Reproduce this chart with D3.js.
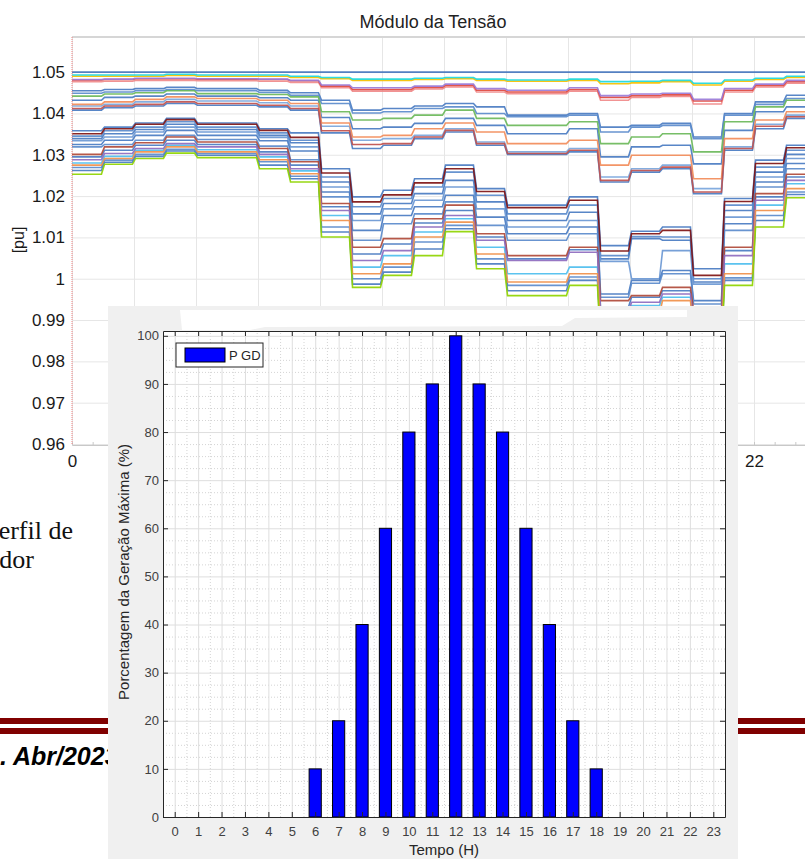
<!DOCTYPE html>
<html>
<head>
<meta charset="utf-8">
<script src="https://cdn.jsdelivr.net/npm/d3@7"></script>
<style>
  body { margin: 0; background: #fff; }
  svg { display: block; }
  text { font-family: "Liberation Sans", Arial, sans-serif; }
</style>
</head>
<body>
<svg id="chart" width="805" height="859"></svg>
<script>
// ---------------- data ----------------
var hours = [0,1,2,3,4,5,6,7,8,9,10,11,12,13,14,15,16,17,18,19,20,21,22,23];

// percentage of maximum DG generation per hour
var genPct = [0,0,0,0,0,0,10,20,40,60,80,90,100,90,80,60,40,20,10,0,0,0,0,0];

// bus voltages [pu] per hour
var vSource = [1.0500,1.0500,1.0500,1.0500,1.0500,1.0500,1.0500,1.0500,1.0500,1.0500,1.0500,1.0500,1.0500,1.0500,1.0500,1.0500,1.0500,1.0500,1.0500,1.0500,1.0500,1.0500,1.0500,1.0500];
var vCyan   = [1.0493,1.0493,1.0493,1.0495,1.0493,1.0493,1.0493,1.0490,1.0487,1.0483,1.0483,1.0485,1.0487,1.0483,1.0481,1.0481,1.0483,1.0477,1.0478,1.0480,1.0473,1.0481,1.0485,1.0490];
var vYellow = [1.0490,1.0490,1.0490,1.0492,1.0490,1.0490,1.0490,1.0487,1.0484,1.0480,1.0480,1.0482,1.0484,1.0480,1.0478,1.0478,1.0480,1.0472,1.0474,1.0477,1.0469,1.0478,1.0482,1.0487];
var vRed1   = [1.0481,1.0482,1.0484,1.0484,1.0483,1.0483,1.0482,1.0479,1.0466,1.0458,1.0458,1.0463,1.0468,1.0456,1.0452,1.0452,1.0458,1.0439,1.0443,1.0445,1.0430,1.0456,1.0468,1.0477];
var vPurple = [1.0482,1.0483,1.0485,1.0485,1.0484,1.0484,1.0483,1.0480,1.0469,1.0462,1.0462,1.0466,1.0471,1.0460,1.0456,1.0456,1.0462,1.0443,1.0447,1.0449,1.0434,1.0460,1.0471,1.0480];
var vPink   = [1.0477,1.0478,1.0480,1.0480,1.0479,1.0479,1.0478,1.0475,1.0462,1.0454,1.0454,1.0459,1.0464,1.0452,1.0448,1.0448,1.0454,1.0432,1.0439,1.0441,1.0423,1.0452,1.0464,1.0473];

var vB1  = [1.0455,1.0458,1.0460,1.0463,1.0460,1.0460,1.0456,1.0450,1.0432,1.0408,1.0412,1.0418,1.0424,1.0416,1.0396,1.0396,1.0400,1.0367,1.0371,1.0376,1.0343,1.0400,1.0428,1.0444];
var vB1b = [1.0449,1.0452,1.0455,1.0457,1.0455,1.0455,1.0451,1.0444,1.0424,1.0401,1.0404,1.0412,1.0416,1.0400,1.0392,1.0392,1.0396,1.0355,1.0367,1.0371,1.0339,1.0396,1.0422,1.0436];
var vG   = [1.0442,1.0447,1.0450,1.0455,1.0448,1.0448,1.0446,1.0440,1.0404,1.0384,1.0388,1.0396,1.0408,1.0388,1.0371,1.0371,1.0380,1.0327,1.0343,1.0351,1.0307,1.0380,1.0416,1.0432];
var vB2  = [1.0432,1.0439,1.0442,1.0447,1.0442,1.0442,1.0438,1.0432,1.0390,1.0363,1.0367,1.0376,1.0388,1.0371,1.0351,1.0351,1.0363,1.0295,1.0319,1.0323,1.0278,1.0359,1.0404,1.0416];
var vO   = [1.0422,1.0428,1.0434,1.0440,1.0436,1.0436,1.0432,1.0424,1.0377,1.0343,1.0347,1.0363,1.0377,1.0355,1.0327,1.0327,1.0335,1.0275,1.0299,1.0299,1.0242,1.0339,1.0384,1.0404];
var vB3  = [1.0418,1.0422,1.0428,1.0434,1.0430,1.0430,1.0426,1.0418,1.0369,1.0335,1.0339,1.0347,1.0363,1.0331,1.0307,1.0307,1.0315,1.0246,1.0266,1.0275,1.0218,1.0319,1.0374,1.0396];
var vR   = [1.0412,1.0418,1.0422,1.0428,1.0424,1.0424,1.0420,1.0412,1.0358,1.0325,1.0327,1.0343,1.0359,1.0327,1.0303,1.0303,1.0311,1.0238,1.0262,1.0270,1.0210,1.0315,1.0369,1.0392];
var vB4  = [1.0408,1.0414,1.0418,1.0424,1.0420,1.0420,1.0416,1.0408,1.0353,1.0315,1.0323,1.0339,1.0355,1.0323,1.0301,1.0301,1.0307,1.0234,1.0258,1.0266,1.0206,1.0311,1.0363,1.0388];

var vL0  = [1.0358,1.0367,1.0377,1.0388,1.0377,1.0377,1.0363,1.0353,1.0266,1.0198,1.0214,1.0242,1.0275,1.0218,1.0178,1.0178,1.0198,1.0080,1.0115,1.0125,1.0024,1.0194,1.0287,1.0323];
var vL1  = [1.0351,1.0363,1.0374,1.0385,1.0374,1.0374,1.0359,1.0342,1.0256,1.0186,1.0203,1.0232,1.0266,1.0211,1.0172,1.0172,1.0190,1.0067,1.0109,1.0117,1.0008,1.0187,1.0279,1.0317];
var vL2  = [1.0345,1.0358,1.0367,1.0380,1.0367,1.0367,1.0353,1.0335,1.0246,1.0174,1.0194,1.0222,1.0258,1.0202,1.0157,1.0157,1.0178,1.0056,1.0102,1.0101,1.0000,1.0178,1.0270,1.0311];
var vL3  = [1.0339,1.0351,1.0361,1.0374,1.0361,1.0361,1.0347,1.0329,1.0234,1.0157,1.0182,1.0206,1.0238,1.0186,1.0141,1.0141,1.0161,1.0048,1.0097,1.0093,0.9992,1.0165,1.0258,1.0301];
var vL4  = [1.0334,1.0343,1.0355,1.0367,1.0355,1.0355,1.0342,1.0319,1.0222,1.0141,1.0169,1.0190,1.0222,1.0169,1.0125,1.0125,1.0141,1.0042,1.0000,1.0068,0.9987,1.0149,1.0246,1.0291];
var vL5  = [1.0325,1.0335,1.0347,1.0359,1.0347,1.0347,1.0334,1.0309,1.0210,1.0117,1.0153,1.0174,1.0202,1.0149,1.0109,1.0109,1.0125,0.9963,0.9996,1.0020,0.9947,1.0133,1.0234,1.0279];
var vL6  = [1.0319,1.0325,1.0335,1.0347,1.0337,1.0337,1.0321,1.0288,1.0198,1.0093,1.0133,1.0157,1.0186,1.0129,1.0093,1.0093,1.0109,0.9955,0.9989,1.0012,0.9939,1.0117,1.0222,1.0266];
var vL7  = [1.0301,1.0319,1.0329,1.0343,1.0331,1.0331,1.0315,1.0283,1.0182,1.0076,1.0097,1.0145,1.0178,1.0109,1.0056,1.0056,1.0076,0.9947,0.9959,0.9979,0.9923,1.0076,1.0206,1.0253];
var vL8  = [1.0295,1.0311,1.0323,1.0335,1.0325,1.0325,1.0307,1.0275,1.0174,1.0060,1.0084,1.0135,1.0165,1.0101,1.0048,1.0048,1.0070,0.9931,0.9955,0.9971,0.9907,1.0068,1.0198,1.0246];
var vL9  = [1.0288,1.0303,1.0315,1.0327,1.0319,1.0319,1.0301,1.0266,1.0165,1.0044,1.0068,1.0125,1.0153,1.0093,1.0044,1.0044,1.0064,0.9919,0.9943,0.9963,0.9899,1.0056,1.0190,1.0238];
var vL10 = [1.0280,1.0296,1.0311,1.0323,1.0312,1.0312,1.0295,1.0261,1.0153,1.0028,1.0056,1.0113,1.0145,1.0076,1.0012,1.0012,1.0028,0.9907,0.9935,0.9955,0.9886,1.0036,1.0178,1.0230];
var vL11 = [1.0275,1.0291,1.0307,1.0319,1.0307,1.0307,1.0288,1.0254,1.0141,1.0012,1.0036,1.0101,1.0137,1.0060,0.9992,0.9992,1.0012,0.9890,0.9915,0.9947,0.9874,1.0012,1.0165,1.0218];
var vL12 = [1.0269,1.0287,1.0301,1.0313,1.0303,1.0303,1.0283,1.0248,1.0125,1.0000,1.0028,1.0089,1.0129,1.0048,0.9984,0.9984,1.0004,0.9874,0.9899,0.9931,0.9862,1.0002,1.0153,1.0210];
var vL13 = [1.0262,1.0282,1.0296,1.0309,1.0299,1.0299,1.0275,1.0242,1.0113,0.9987,1.0016,1.0072,1.0121,1.0036,0.9971,0.9971,0.9996,0.9858,0.9882,0.9915,0.9850,0.9996,1.0141,1.0204];
var vL14 = [1.0253,1.0277,1.0291,1.0304,1.0293,1.0293,1.0266,1.0234,1.0101,0.9979,1.0008,1.0056,1.0114,1.0024,0.9959,0.9959,0.9984,0.9842,0.9866,0.9899,0.9834,0.9984,1.0125,1.0196];

// draw order: blues first, coloured ones on top
var busSeries = [vSource, vB1, vB1b, vB2, vB4, vL0, vL2, vL3, vL4, vL5, vL6, vL8, vL12, vL13,
                 vB3, vL10, vG, vO, vR, vL7, vL9, vL11, vL1, vL14, vPink, vRed1, vPurple, vYellow, vCyan];
var busColors = ["#4676bd", "#4a7cc2", "#5b8bcc", "#4a7cc2", "#4a7cc2", "#4a7cc2", "#5b8bcc", "#4a7cc2", "#6b98d4", "#4a7cc2", "#5b8bcc", "#4a7cc2", "#5b8bcc", "#4a7cc2",
                 "#7aa6dc", "#4dbeee", "#6bb85a", "#f28c5a", "#c0504d", "#b04a3a", "#8e6bbf", "#f0904a", "#7f1414", "#8fd400", "#f08a8a", "#e0463e", "#9a7cd8", "#f5c000", "#1ed8dc"];

var vTicks = [0.96, 0.97, 0.98, 0.99, 1, 1.01, 1.02, 1.03, 1.04, 1.05];
var vTickLabels = ["0.96", "0.97", "0.98", "0.99", "1", "1.01", "1.02", "1.03", "1.04", "1.05"];
var tTicks = [0, 2, 4, 6, 8, 10, 12, 14, 16, 18, 20, 22, 24];
var tLabelTicks = [0, 2, 4, 6, 8, 10, 12, 14, 16, 18, 20, 22];

// ---------------- background chart ----------------
var svg = d3.select("#chart");
svg.append("rect").attr("width", 805).attr("height", 859).attr("fill", "#fff");

var vx = d3.scaleLinear().domain([0, 24]).range([72, 816]);
var vy = d3.scaleLinear().domain([0.96, 1.0585]).range([444, 37]);

var bg = svg.append("g");

bg.append("text")
    .attr("x", 433).attr("y", 28)
    .attr("text-anchor", "middle")
    .style("font-size", "18px")
    .attr("fill", "#222")
    .text("Módulo da Tensão");

// grid
bg.append("g")
    .attr("transform", "translate(0,444)")
    .call(d3.axisBottom(vx).tickValues(tTicks).tickSize(-407).tickFormat(""))
    .call(g => g.select(".domain").remove())
    .selectAll("line").attr("stroke", "#e6e6e6");
bg.append("g")
    .attr("transform", "translate(72,0)")
    .call(d3.axisLeft(vy).tickValues(vTicks).tickSize(-744).tickFormat(""))
    .call(g => g.select(".domain").remove())
    .selectAll("line").attr("stroke", "#e6e6e6");

bg.append("line").attr("x1", 72).attr("x2", 805).attr("y1", 37).attr("y2", 37)
    .attr("stroke", "#d6d6d6").attr("stroke-width", 2);

// x axis line + minor ticks
bg.append("g")
    .attr("transform", "translate(0,445)")
    .call(d3.axisBottom(vx).tickValues(d3.range(0, 24.01, 2 / 3)).tickSize(-3).tickFormat(""))
    .call(g => g.select(".domain").attr("stroke", "#c8c8c8"))
    .selectAll("line").attr("stroke", "#c8c8c8");

// tick labels
var vyAxis = bg.append("g")
    .attr("transform", "translate(72,0)")
    .call(d3.axisLeft(vy).tickValues(vTicks).tickSize(0).tickPadding(7).tickFormat((d, i) => vTickLabels[i]));
vyAxis.select(".domain").remove();
vyAxis.selectAll("text").style("font-size", "17px").attr("fill", "#1a1a1a").style("font-family", "Liberation Sans, Arial");

var vxAxis = bg.append("g")
    .attr("transform", "translate(0,444)")
    .call(d3.axisBottom(vx).tickValues(tLabelTicks).tickSize(0).tickPadding(11));
vxAxis.select(".domain").remove();
vxAxis.selectAll("text").style("font-size", "17px").attr("fill", "#1a1a1a").style("font-family", "Liberation Sans, Arial");

bg.append("text")
    .attr("transform", "translate(24,240) rotate(-90)")
    .attr("text-anchor", "middle")
    .style("font-size", "16px")
    .attr("fill", "#1a1a1a")
    .text("[pu]");

// voltage step lines
svg.append("clipPath").attr("id", "vclip")
    .append("rect").attr("x", 72).attr("y", 37).attr("width", 744).attr("height", 407);

var stepLine = d3.line().x(d => vx(d[0])).y(d => vy(d[1]));
function stepPoints(vals) {
  var pts = [];
  vals.forEach((v, i) => {
    pts.push([i === 0 ? 0 : i + 0.05, v]);
    pts.push([i + 0.95, v]);
  });
  return pts;
}

bg.append("g").attr("clip-path", "url(#vclip)")
  .selectAll("path")
  .data(busSeries)
  .join("path")
    .attr("d", d => stepLine(stepPoints(d)))
    .attr("fill", "none")
    .attr("stroke", (d, i) => busColors[i])
    .attr("stroke-width", 1.6)
    .attr("stroke-opacity", 0.92);

// red dotted y axis
bg.append("line").attr("x1", 72).attr("x2", 72).attr("y1", 37).attr("y2", 444)
    .attr("stroke", "#f08080").attr("stroke-dasharray", "1,1");

// ---------------- slide fragments ----------------
svg.append("text").attr("x", 73).attr("y", 539).attr("text-anchor", "end")
    .style("font-family", "Liberation Serif, Times New Roman, serif").style("font-size", "26px")
    .attr("fill", "#111").text("erfil de");
svg.append("text").attr("x", 34).attr("y", 568).attr("text-anchor", "end")
    .style("font-family", "Liberation Serif, Times New Roman, serif").style("font-size", "26px")
    .attr("fill", "#111").text("dor");

svg.append("rect").attr("x", 0).attr("y", 718).attr("width", 805).attr("height", 6).attr("fill", "#800000");
svg.append("rect").attr("x", 0).attr("y", 728).attr("width", 805).attr("height", 6).attr("fill", "#800000");

svg.append("text").attr("x", 0).attr("y", 765)
    .style("font-size", "25px").style("font-weight", "bold").style("font-style", "italic")
    .attr("fill", "#000").text(". Abr/2023");

// ---------------- bar chart panel ----------------
svg.append("rect").attr("x", 108).attr("y", 306).attr("width", 630).attr("height", 553).attr("fill", "#f0f0f0");
svg.append("polygon")
    .attr("points", "180,310 687,310 687,317 575,318 562,326 265,327 250,330 182,330")
    .attr("fill", "#fff");

var bx = d3.scaleLinear().domain([-0.5, 23.5]).range([163, 725]);
var by = d3.scaleLinear().domain([0, 101]).range([817, 331]);

var bc = svg.append("g");
bc.append("rect").attr("x", 163).attr("y", 331).attr("width", 562).attr("height", 486).attr("fill", "#fff");

var minorX = hours.slice(0, 23).map(h => h + 0.5);
var minorY = [];
for (var k = 0; k < 100; k += 2.5) if (k % 10 !== 0) minorY.push(k);

bc.append("g").attr("transform", "translate(0,817)")
    .call(d3.axisBottom(bx).tickValues(minorX).tickSize(-486).tickFormat(""))
    .call(g => g.select(".domain").remove())
    .selectAll("line").attr("stroke", "#d4d4d4").attr("stroke-dasharray", "1,2");
bc.append("g").attr("transform", "translate(163,0)")
    .call(d3.axisLeft(by).tickValues(minorY).tickSize(-562).tickFormat(""))
    .call(g => g.select(".domain").remove())
    .selectAll("line").attr("stroke", "#d4d4d4").attr("stroke-dasharray", "1,2");
bc.append("g").attr("transform", "translate(0,817)")
    .call(d3.axisBottom(bx).tickValues(hours).tickSize(-486).tickFormat(""))
    .call(g => g.select(".domain").remove())
    .selectAll("line").attr("stroke", "#dedede");
bc.append("g").attr("transform", "translate(163,0)")
    .call(d3.axisLeft(by).tickValues(d3.range(10, 101, 10)).tickSize(-562).tickFormat(""))
    .call(g => g.select(".domain").remove())
    .selectAll("line").attr("stroke", "#dedede");

// bars
bc.append("g").selectAll("rect")
  .data(hours.filter(h => genPct[h] > 0))
  .join("rect")
    .attr("x", h => bx(h - 0.26))
    .attr("width", h => bx(h + 0.26) - bx(h - 0.26))
    .attr("y", h => by(genPct[h]))
    .attr("height", h => by(0) - by(genPct[h]))
    .attr("fill", "#0000ff")
    .attr("stroke", "#000")
    .attr("stroke-width", 1);

// axes with inward ticks
var axisColor = "#262626";
var xAx = bc.append("g").attr("transform", "translate(0,817)")
    .call(d3.axisBottom(bx).tickValues(hours).tickSizeInner(-5).tickSizeOuter(0).tickPadding(10));
var yAx = bc.append("g").attr("transform", "translate(163,0)")
    .call(d3.axisLeft(by).tickValues(d3.range(0, 101, 10)).tickSizeInner(-5).tickSizeOuter(0).tickPadding(4));
var xTop = bc.append("g").attr("transform", "translate(0,331)")
    .call(d3.axisTop(bx).tickValues(hours).tickSizeInner(-5).tickSizeOuter(0).tickFormat(""));
var yRight = bc.append("g").attr("transform", "translate(725,0)")
    .call(d3.axisRight(by).tickValues(d3.range(0, 101, 10)).tickSizeInner(-5).tickSizeOuter(0).tickFormat(""));
[xAx, yAx, xTop, yRight].forEach(a => {
  a.selectAll("path, line").attr("stroke", axisColor);
  a.selectAll("text").style("font-size", "13px").attr("fill", "#404040").style("font-family", "Liberation Sans, Arial");
});

// legend
bc.append("rect").attr("x", 176).attr("y", 343).attr("width", 87).attr("height", 24)
    .attr("fill", "#fff").attr("stroke", "#262626");
bc.append("rect").attr("x", 185).attr("y", 348).attr("width", 40).attr("height", 14)
    .attr("fill", "#0000ff").attr("stroke", "#000");
bc.append("text").attr("x", 229).attr("y", 360).style("font-size", "13px").attr("fill", "#262626").text("P GD");

// axis labels
bc.append("text").attr("x", 444).attr("y", 855).attr("text-anchor", "middle")
    .style("font-size", "15px").attr("fill", "#262626").text("Tempo (H)");
bc.append("text").attr("transform", "translate(129,572) rotate(-90)").attr("text-anchor", "middle")
    .style("font-size", "15px").attr("fill", "#262626").text("Porcentagem da Geração Máxima (%)");
</script>
</body>
</html>
